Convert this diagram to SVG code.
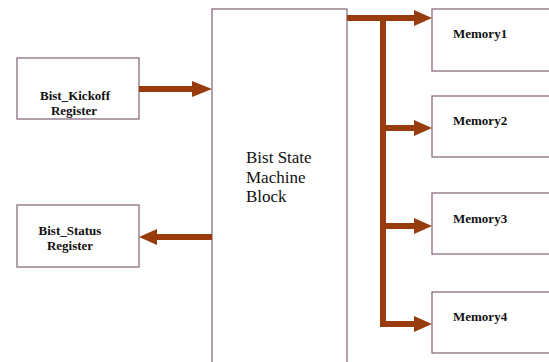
<svg xmlns="http://www.w3.org/2000/svg" width="549" height="362" viewBox="0 0 549 362">
<style>
.box{fill:#fff;stroke:#8c6c80;stroke-width:1.3}
.t{font-family:"Liberation Serif",serif;font-weight:bold;font-size:13px;fill:#111}
.big{font-family:"Liberation Serif",serif;font-size:17px;fill:#111}
.w{fill:none;stroke:#983c0e;stroke-width:6}
.h{fill:#983c0e}
</style>
<rect width="549" height="362" fill="#fff"/>
<g id="kickoff"><rect class="box" x="17" y="58" width="122" height="61"/><text class="t" text-anchor="middle" x="75" y="100">Bist_Kickoff</text><text class="t" text-anchor="middle" x="74" y="115">Register</text></g>
<g id="status"><rect class="box" x="17" y="205" width="122" height="62"/><text class="t" text-anchor="middle" x="70" y="235">Bist_Status</text><text class="t" text-anchor="middle" x="70" y="250">Register</text></g>
<g id="fsm"><rect class="box" x="212" y="9" width="135" height="360"/><text class="big" x="246" y="163">Bist State</text><text class="big" x="246" y="183">Machine</text><text class="big" x="246" y="202">Block</text></g>
<g id="mem1"><rect class="box" x="432" y="9" width="125" height="62"/><text class="t" x="453" y="38">Memory1</text></g>
<g id="mem2"><rect class="box" x="432" y="96" width="125" height="61"/><text class="t" x="453" y="125">Memory2</text></g>
<g id="mem3"><rect class="box" x="432" y="193" width="125" height="61"/><text class="t" x="453" y="223">Memory3</text></g>
<g id="mem4"><rect class="box" x="432" y="292" width="125" height="61"/><text class="t" x="453" y="321">Memory4</text></g>
<g id="connectors">
<path class="w" d="M139 89H194"/><path class="h" d="M192 81L212 89L192 97Z"/>
<path class="w" d="M212 237H155"/><path class="h" d="M157 229L139 237L157 245Z"/>
<path class="w" d="M347 18H416M383 15V327M383 128H416M383 226H416M383 324H416"/>
<path class="h" d="M414 10L432 18L414 26Z"/>
<path class="h" d="M414 120L432 128L414 136Z"/>
<path class="h" d="M414 218L432 226L414 234Z"/>
<path class="h" d="M414 316L432 324L414 332Z"/>
</g>
</svg>
